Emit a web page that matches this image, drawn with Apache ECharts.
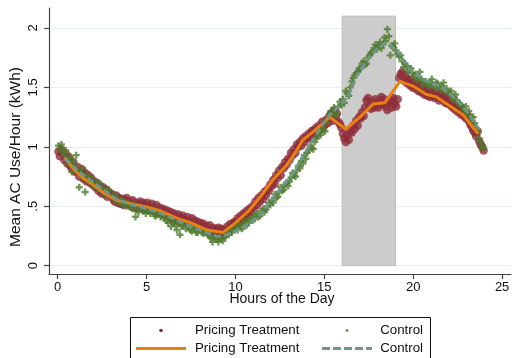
<!DOCTYPE html>
<html>
<head>
<meta charset="utf-8">
<script src="https://cdn.jsdelivr.net/npm/echarts@6/dist/echarts.min.js"></script>
<style>
  html, body { margin: 0; padding: 0; background: #ffffff; }
  #chart { width: 513px; height: 358px; }
</style>
</head>
<body>
<div id="chart"></div>
<script>
// 5-minute bins across the day (bin centres, in hours)
const binsPerHour = 12;
const hours = [];
for (let k = 0; k < 24 * binsPerHour; k++) hours.push((k + 0.5) / binsPerHour);

// Mean AC use per bin, pricing treatment group (kWh); one row per hour
const treatment = [
  0.96, 0.92, 0.98, 0.95, 0.89, 0.94, 0.86, 0.91, 0.84, 0.82, 0.87, 0.79,
  0.80, 0.83, 0.75, 0.79, 0.81, 0.73, 0.78, 0.71, 0.76, 0.70, 0.74, 0.68,
  0.71, 0.66, 0.69, 0.63, 0.67, 0.61, 0.66, 0.60, 0.64, 0.58, 0.62, 0.60,
  0.60, 0.56, 0.54, 0.59, 0.53, 0.57, 0.52, 0.56, 0.51, 0.55, 0.57, 0.52,
  0.54, 0.50, 0.55, 0.49, 0.53, 0.48, 0.51, 0.54, 0.49, 0.53, 0.47, 0.51,
  0.53, 0.49, 0.47, 0.52, 0.48, 0.46, 0.51, 0.45, 0.49, 0.44, 0.48, 0.43,
  0.47, 0.42, 0.46, 0.41, 0.45, 0.39, 0.44, 0.40, 0.38, 0.43, 0.41, 0.37,
  0.42, 0.38, 0.36, 0.41, 0.37, 0.35, 0.40, 0.34, 0.38, 0.33, 0.37, 0.32,
  0.36, 0.32, 0.35, 0.30, 0.33, 0.29, 0.34, 0.28, 0.32, 0.27, 0.31, 0.28,
  0.32, 0.27, 0.31, 0.26, 0.30, 0.29, 0.33, 0.30, 0.35, 0.32, 0.36, 0.37,
  0.35, 0.40, 0.36, 0.42, 0.39, 0.44, 0.41, 0.46, 0.43, 0.48, 0.45, 0.50,
  0.49, 0.54, 0.51, 0.57, 0.54, 0.59, 0.56, 0.62, 0.59, 0.64, 0.63, 0.68,
  0.67, 0.72, 0.69, 0.76, 0.74, 0.80, 0.76, 0.83, 0.82, 0.87, 0.85, 0.90,
  0.89, 0.95, 0.93, 0.98, 0.95, 1.02, 1.00, 1.04, 1.01, 1.07, 1.04, 1.09,
  1.07, 1.11, 1.08, 1.13, 1.14, 1.10, 1.16, 1.13, 1.18, 1.15, 1.21, 1.17,
  1.19, 1.23, 1.20, 1.26, 1.28, 1.22, 1.30, 1.24, 1.28, 1.21, 1.19, 1.16,
  1.11, 1.07, 1.04, 1.10, 1.06, 1.13, 1.12, 1.18, 1.15, 1.22, 1.18, 1.25,
  1.24, 1.29, 1.26, 1.33, 1.39, 1.41, 1.34, 1.32, 1.38, 1.33, 1.40, 1.35,
  1.33, 1.39, 1.42, 1.36, 1.40, 1.34, 1.31, 1.37, 1.39, 1.33, 1.41, 1.36,
  1.34, 1.40, 1.58, 1.61, 1.63, 1.56, 1.60, 1.54, 1.57, 1.52, 1.56, 1.50,
  1.54, 1.49, 1.53, 1.47, 1.52, 1.46, 1.50, 1.44, 1.49, 1.43, 1.47, 1.42,
  1.47, 1.43, 1.41, 1.46, 1.42, 1.39, 1.45, 1.40, 1.43, 1.37, 1.41, 1.36,
  1.39, 1.35, 1.33, 1.36, 1.31, 1.34, 1.29, 1.32, 1.27, 1.30, 1.26, 1.24,
  1.27, 1.22, 1.19, 1.17, 1.14, 1.12, 1.09, 1.13, 1.05, 1.02, 1.00, 0.97
];

// Mean AC use per bin, control group (kWh); one row per hour
const control = [
  1.01, 0.98, 1.02, 0.96, 0.93, 0.97, 0.90, 0.86, 0.92, 0.79, 0.88, 0.84,
  0.93, 0.80, 0.66, 0.78, 0.82, 0.74, 0.62, 0.77, 0.70, 0.75, 0.72, 0.68,
  0.71, 0.67, 0.66, 0.70, 0.69, 0.63, 0.65, 0.61, 0.60, 0.63, 0.64, 0.58,
  0.58, 0.60, 0.55, 0.57, 0.57, 0.53, 0.52, 0.55, 0.54, 0.51, 0.50, 0.53,
  0.51, 0.49, 0.48, 0.52, 0.41, 0.47, 0.45, 0.50, 0.49, 0.46, 0.47, 0.44,
  0.48, 0.46, 0.44, 0.47, 0.46, 0.42, 0.42, 0.45, 0.45, 0.41, 0.43, 0.40,
  0.41, 0.38, 0.36, 0.40, 0.33, 0.37, 0.37, 0.34, 0.30, 0.36, 0.26, 0.33,
  0.34, 0.36, 0.31, 0.33, 0.35, 0.30, 0.29, 0.33, 0.32, 0.28, 0.28, 0.31,
  0.30, 0.28, 0.27, 0.29, 0.29, 0.26, 0.25, 0.23, 0.20, 0.24, 0.24, 0.22,
  0.20, 0.23, 0.23, 0.21, 0.24, 0.25, 0.27, 0.26, 0.29, 0.28, 0.31, 0.30,
  0.32, 0.30, 0.34, 0.33, 0.31, 0.35, 0.37, 0.34, 0.36, 0.39, 0.40, 0.38,
  0.39, 0.42, 0.44, 0.41, 0.42, 0.46, 0.48, 0.45, 0.47, 0.50, 0.53, 0.51,
  0.55, 0.53, 0.60, 0.57, 0.58, 0.62, 0.66, 0.63, 0.64, 0.68, 0.70, 0.67,
  0.71, 0.74, 0.78, 0.76, 0.75, 0.80, 0.84, 0.82, 0.88, 0.86, 0.93, 0.90,
  0.95, 0.97, 1.01, 0.99, 0.98, 1.04, 1.07, 1.09, 1.12, 1.10, 1.16, 1.14,
  1.13, 1.20, 1.24, 1.27, 1.30, 1.26, 1.33, 1.29, 1.27, 1.34, 1.38, 1.35,
  1.40, 1.37, 1.47, 1.45, 1.43, 1.50, 1.55, 1.58, 1.60, 1.62, 1.63, 1.66,
  1.66, 1.70, 1.72, 1.69, 1.70, 1.75, 1.77, 1.79, 1.80, 1.83, 1.86, 1.82,
  1.85, 1.88, 1.83, 1.86, 1.92, 1.89, 1.99, 1.93, 1.77, 1.85, 1.84, 1.87,
  1.81, 1.78, 1.76, 1.77, 1.72, 1.67, 1.70, 1.68, 1.63, 1.65, 1.66, 1.62,
  1.60, 1.61, 1.56, 1.58, 1.63, 1.57, 1.52, 1.55, 1.55, 1.53, 1.51, 1.54,
  1.57, 1.52, 1.50, 1.54, 1.53, 1.50, 1.48, 1.51, 1.54, 1.47, 1.49, 1.46,
  1.45, 1.47, 1.40, 1.42, 1.44, 1.39, 1.37, 1.36, 1.35, 1.33, 1.31, 1.34,
  1.28, 1.30, 1.22, 1.25, 1.25, 1.20, 1.15, 1.13, 1.07, 1.04, 1.01, 0.99
];

// Fitted profiles
const treatFitHours = [0.4, 0.9, 1.4, 2.0, 2.6, 3.3, 4.2, 5.0, 5.8, 6.7, 7.5, 8.4, 9.3, 10.0, 10.8, 11.4, 12.1, 12.9, 13.4, 13.8, 14.4, 15.3, 16.2, 17.0, 17.75, 18.4, 19.25, 20.0, 20.75, 21.3, 22.0, 22.8, 23.65];
const treatFit      = [0.91, 0.81, 0.74, 0.68, 0.61, 0.55, 0.52, 0.495, 0.46, 0.40, 0.36, 0.30, 0.28, 0.36, 0.47, 0.58, 0.72, 0.85, 0.96, 1.06, 1.13, 1.25, 1.15, 1.25, 1.36, 1.37, 1.55, 1.51, 1.44, 1.42, 1.35, 1.27, 1.11];
const controlFitHours = [0.4, 1.2, 2.0, 3.3, 4.2, 5.0, 6.0, 7.0, 8.0, 9.0, 9.5, 10.0, 10.8, 11.4, 11.9, 12.5, 13.25, 13.8, 14.2, 14.75, 15.3, 15.9, 16.35, 16.8, 17.4, 17.95, 18.4, 18.7, 19.26, 19.8, 20.4, 20.95, 21.5, 22.1, 22.8, 23.6, 23.8];
const controlFit      = [0.90, 0.79, 0.70, 0.56, 0.51, 0.48, 0.43, 0.36, 0.30, 0.245, 0.26, 0.29, 0.36, 0.43, 0.53, 0.64, 0.78, 0.92, 1.02, 1.15, 1.27, 1.35, 1.43, 1.59, 1.73, 1.82, 1.87, 1.86, 1.775, 1.65, 1.58, 1.54, 1.51, 1.44, 1.34, 1.17, 1.12];

// Peak-price window (hours)
const peakWindow = [16, 19];
const xTicks = [0, 5, 10, 15, 20, 25];
const yTicks = [0, 0.5, 1, 1.5, 2];
const yTickText = ['0', '.5', '1', '1.5', '2'];

const COL_TREAT = '#8e2d3b';
const COL_CTRL = '#4e7b2c';
const COL_TREAT_FIT = '#e98110';
const COL_CTRL_FIT = '#70968b';
const FONT = "'Liberation Sans', Arial, sans-serif";
const PLUS = 'path://M2,0H4V2H6V4H4V6H2V4H0V2H2Z';

const zip = (xs, ys) => xs.map((x, i) => [x, ys[i]]);

const chart = echarts.init(document.getElementById('chart'), null, { renderer: 'canvas' });

chart.setOption({
  animation: false,
  backgroundColor: '#ffffff',
  grid: { left: 49, right: 2, top: 8, bottom: 84, containLabel: false },
  xAxis: {
    type: 'value',
    min: -0.49,
    max: 25.5,
    axisLine: { show: true, onZero: false, lineStyle: { color: '#444', width: 1.2 } },
    axisTick: { show: true, customValues: xTicks, length: 5, lineStyle: { color: '#444', width: 1.2 } },
    axisLabel: { customValues: xTicks, fontSize: 13, margin: 7, color: '#111', fontFamily: FONT },
    splitLine: { show: false }
  },
  yAxis: {
    type: 'value',
    min: -0.07,
    max: 2.168,
    axisLine: { show: true, onZero: false, lineStyle: { color: '#444', width: 1.2 } },
    axisTick: { show: true, customValues: yTicks, length: 5, lineStyle: { color: '#444', width: 1.2 } },
    axisLabel: {
      customValues: yTicks,
      rotate: 90,
      fontSize: 13,
      margin: 9,
      color: '#111',
      fontFamily: FONT,
      formatter: v => yTickText[yTicks.indexOf(v)]
    },
    splitLine: { show: true, lineStyle: { color: '#e6eef0', width: 1 } }
  },
  graphic: [
    {
      type: 'text',
      x: 16, y: 157,
      rotation: Math.PI / 2,
      style: { text: 'Mean AC Use/Hour (kWh)', font: '15.5px ' + FONT, fill: '#111', align: 'center', verticalAlign: 'middle' }
    },
    {
      type: 'text',
      x: 282, y: 299,
      style: { text: 'Hours of the Day', font: '14px ' + FONT, fill: '#111', align: 'center', verticalAlign: 'middle' }
    },
    // legend box
    {
      type: 'group',
      children: [
        { type: 'rect', shape: { x: 130.5, y: 317.5, width: 300, height: 60 }, style: { fill: '#fff', stroke: '#111', lineWidth: 1 } },
        { type: 'circle', shape: { cx: 161, cy: 330.5, r: 1.8 }, style: { fill: COL_TREAT } },
        { type: 'text', x: 195, y: 330.5, style: { text: 'Pricing Treatment', font: '13.3px ' + FONT, fill: '#111', align: 'left', verticalAlign: 'middle' } },
        { type: 'circle', shape: { cx: 347, cy: 330.5, r: 1.3 }, style: { fill: COL_CTRL } },
        { type: 'text', x: 423, y: 330.5, style: { text: 'Control', font: '13.3px ' + FONT, fill: '#111', align: 'right', verticalAlign: 'middle' } },
        { type: 'line', shape: { x1: 136, y1: 348.5, x2: 186, y2: 348.5 }, style: { stroke: COL_TREAT_FIT, lineWidth: 3 } },
        { type: 'text', x: 195, y: 348.5, style: { text: 'Pricing Treatment', font: '13.3px ' + FONT, fill: '#111', align: 'left', verticalAlign: 'middle' } },
        { type: 'line', shape: { x1: 322, y1: 348.5, x2: 372, y2: 348.5 }, style: { stroke: COL_CTRL_FIT, lineWidth: 3, lineDash: [8, 3] } },
        { type: 'text', x: 423, y: 348.5, style: { text: 'Control', font: '13.3px ' + FONT, fill: '#111', align: 'right', verticalAlign: 'middle' } }
      ]
    }
  ],
  series: [
    {
      name: 'Pricing Treatment',
      type: 'scatter',
      data: zip(hours, treatment),
      symbol: 'circle',
      symbolSize: 8.5,
      itemStyle: { color: COL_TREAT },
      markArea: {
        silent: true,
        itemStyle: { color: '#cccccc', borderColor: '#bcbcbc', borderWidth: 1 },
        data: [[{ coord: [peakWindow[0], 0] }, { coord: [peakWindow[1], 2.1] }]]
      },
      z: 2
    },
    {
      name: 'Control',
      type: 'scatter',
      data: zip(hours, control),
      symbol: PLUS,
      symbolSize: 7,
      itemStyle: { color: COL_CTRL },
      z: 3
    },
    {
      name: 'Pricing Treatment fit',
      type: 'line',
      data: zip(treatFitHours, treatFit),
      showSymbol: false,
      symbol: 'none',
      lineStyle: { color: COL_TREAT_FIT, width: 3 },
      z: 4
    },
    {
      name: 'Control fit',
      type: 'line',
      data: zip(controlFitHours, controlFit),
      showSymbol: false,
      symbol: 'none',
      lineStyle: { color: COL_CTRL_FIT, width: 3, type: [7, 3] },
      z: 5
    }
  ]
});
</script>
</body>
</html>
